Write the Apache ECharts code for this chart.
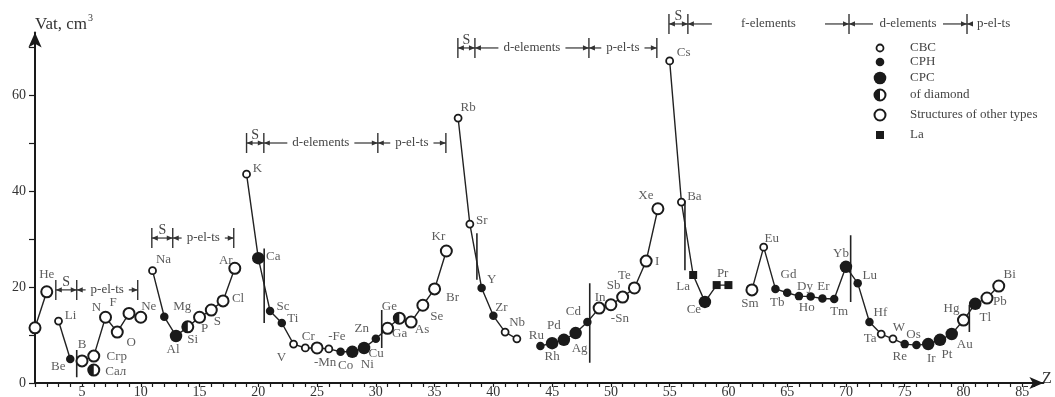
<!DOCTYPE html>
<html><head><meta charset="utf-8">
<script src="https://cdn.jsdelivr.net/npm/echarts/dist/echarts.min.js"></script>
<style>html,body{margin:0;padding:0;background:#fff}#c{width:1055px;height:397px}</style>
</head><body><div id="c"></div>
<script>
// ---- data (Z = index + 1) ----
const elements = ['H','He','Li','Be','B','Сгр','N','O','F','Ne','Na','Mg','Al','Si','P','S','Cl','Ar','K','Ca',
 'Sc','Ti','V','Cr','Mn','Fe','Co','Ni','Cu','Zn','Ga','Ge','As','Se','Br','Kr','Rb','Sr','Y','Zr',
 'Nb','Mo','Tc','Ru','Rh','Pd','Ag','Cd','In','Sn','Sb','Te','I','Xe','Cs','Ba','La','Ce','Pr','Nd',
 'Pm','Sm','Eu','Gd','Tb','Dy','Ho','Er','Tm','Yb','Lu','Hf','Ta','W','Re','Os','Ir','Pt','Au','Hg',
 'Tl','Pb','Bi'];
const volumes = [11.5,19.0,12.9,5.0,4.6,5.6,13.7,10.6,14.5,13.7,23.4,13.8,9.8,11.7,13.7,15.2,17.1,23.9,43.5,26.0,
 15.0,12.5,8.1,7.3,7.3,7.1,6.5,6.5,7.3,9.2,11.4,13.5,12.7,16.2,19.6,27.5,55.2,33.1,19.8,14.0,
 10.6,9.2,null,7.7,8.3,9.0,10.4,12.7,15.6,16.3,17.9,19.8,25.4,36.3,67.1,37.7,22.5,16.9,20.4,20.4,
 null,19.4,28.3,19.6,18.8,18.1,18.0,17.6,17.5,24.2,20.8,12.7,10.2,9.2,8.1,7.9,8.1,9.0,10.2,13.1,
 16.5,17.7,20.2];
const structures = ['OTH','OTH','CBC','CPH','OTH','OTH','OTH','OTH','OTH','OTH','CBC','CPH','CPC','DIA','OTH','OTH','OTH','OTH','CBC','CPC',
 'CPH','CPH','CBC','CBC','OTH','CBC','CPH','CPC','CPC','CPH','OTH','DIA','OTH','OTH','OTH','OTH','CBC','CBC','CPH','CPH',
 'CBC','CBC',null,'CPH','CPC','CPC','CPC','CPH','OTH','OTH','OTH','OTH','OTH','OTH','CBC','CBC','LA','CPC','LA','LA',
 null,'OTH','CBC','CPH','CPH','CPH','CPH','CPH','CPH','CPC','CPH','CPH','CBC','CBC','CPH','CPH','CPC','CPC','CPC','OTH',
 'CPC','OTH','OTH'];
// extra (unconnected) point: carbon as diamond
const extraNames = ['Сал'];
const extraZ = [6];
const extraVolumes = [2.7];
const extraStructures = ['DIA'];
// Z at which a new connected line segment starts
const segmentStarts = [1, 3, 5, 11, 19, 37, 44, 55, 62, 84];
// vertical divider marks: [Z, from, to]
const dividers = [[4.55,1.2,6.9],[20.5,12.5,28],[30.5,7.3,15.2],[38.6,21.5,31.2],[48.2,4.2,20.8],[56.3,23.5,38],[70.4,16.9,30.8],[80.5,10.6,16.3]];
// header brackets
const bracketRows = [
 {v:19.4, bars:[2.77,4.55,9.74], labels:['S','p-el-ts']},
 {v:30.2, bars:[10.94,12.72,17.91], labels:['S','p-el-ts']},
 {v:50.0, bars:[19.0,20.47,30.17,35.96], labels:['S','d-elements','p-el-ts']},
 {v:69.8, bars:[36.98,38.43,48.13,53.91], labels:['S','d-elements','p-el-ts']},
 {v:74.8, bars:[54.94,56.55,70.26,80.3], labels:['S','f-elements','d-elements','p-el-ts']}
];
const xTickLabels = [5,10,15,20,25,30,35,40,45,50,55,60,65,70,75,80,85];
const yTickLabels = [0,20,40,60];
const legendItems = [['CBC','CBC'],['CPH','CPH'],['CPC','CPC'],['DIA','of diamond'],['OTH','Structures of other types'],['LA','La']];

// ---- label layout (pixel offsets from point) ----
const labelText = {Mn:'-Mn', Fe:'-Fe', Sn:'-Sn'};
const labelOffsets = {He:[0,-17],Li:[12,-6],Be:[-12,8],B:[0,-16],'Сгр':[23,0],N:[-9,-10],O:[14,10],F:[-16,-11],Ne:[8,-11],
 Na:[11,-11],Mg:[18,-10],Al:[-3,14],Si:[5,13],P:[5,11],S:[6,12],Cl:[15,-2],Ar:[-9,-8],K:[11,-6],Ca:[15,-2],
 Sc:[13,-4],Ti:[11,-4],V:[-12,13],Cr:[3,-11],Mn:[8,15],Fe:[8,-12],Co:[5,14],Ni:[15,13],Cu:[12,6],Zn:[-14,-10],
 Ga:[12,5],Ge:[-10,-12],As:[11,8],Se:[14,11],Br:[18,9],Kr:[-8,-14],Rb:[10,-10],Sr:[12,-4],Y:[10,-8],Zr:[8,-8],
 Nb:[12,-10],Ru:[-4,-10],Rh:[0,13],Pd:[-10,-14],Ag:[4,15],Cd:[-14,-10],In:[1,-11],Sn:[9,14],Sb:[-9,-12],Te:[-10,-12],
 I:[11,0],Xe:[-12,-13],Cs:[14,-8],Ba:[13,-5],La:[-10,12],Ce:[-11,8],Pr:[6,-12],Sm:[-2,14],Eu:[8,-9],Gd:[13,-14],
 Tb:[-10,10],Dy:[6,-10],Ho:[-4,11],Er:[1,-12],Tm:[5,13],Yb:[-5,-13],Lu:[12,-8],Hf:[11,-9],Ta:[-11,5],W:[6,-11],
 Re:[-5,12],Os:[-3,-11],Ir:[3,14],Pt:[7,15],Au:[13,11],Hg:[-12,-12],Tl:[10,14],Pb:[13,4],Bi:[11,-11],'Сал':[22,2]};

const INK = '#1a1a1a';
const FONT = '"Liberation Serif", "DejaVu Serif", serif';
const markerStyles = {
 CBC:{symbol:'circle', symbolSize:7, itemStyle:{color:'#fff', borderColor:INK, borderWidth:1.8, opacity:1}},
 CPH:{symbol:'circle', symbolSize:8.5, itemStyle:{color:INK, opacity:1}},
 CPC:{symbol:'circle', symbolSize:12.5, itemStyle:{color:INK, opacity:1}},
 OTH:{symbol:'circle', symbolSize:11, itemStyle:{color:'#fff', borderColor:INK, borderWidth:2, opacity:1}},
 DIA:{symbol:'circle', symbolSize:11, itemStyle:{color:'#fff', borderColor:INK, borderWidth:2, opacity:1}},
 LA:{symbol:'rect', symbolSize:8, itemStyle:{color:INK, opacity:1}}
};

// ---- build points ----
const points = [];
elements.forEach((name,i)=>{ if (volumes[i] != null) points.push({name, z:i+1, v:volumes[i], s:structures[i]}); });
extraNames.forEach((name,i)=>points.push({name, z:extraZ[i], v:extraVolumes[i], s:extraStructures[i]}));

const series = [];
// connecting lines
for (let k=0;k<segmentStarts.length-1;k++){
  const data=[];
  for (let z=segmentStarts[k]; z<segmentStarts[k+1]; z++){
    const v=volumes[z-1]; if (v!=null) data.push([z,v]);
  }
  series.push({type:'line', data, symbol:'none', silent:true, z:1,
    lineStyle:{color:'#222', width:1.4}});
}
// dividers
dividers.forEach(d=>series.push({type:'line', data:[[d[0],d[1]],[d[0],d[2]]], symbol:'none', silent:true, z:1,
  lineStyle:{color:'#222', width:1.6}}));
// markers
Object.keys(markerStyles).forEach(t=>{
  const st = markerStyles[t];
  const data = points.filter(p=>p.s===t).map(p=>[p.z,p.v]);
  series.push(Object.assign({type:'scatter', data, silent:true, z:3}, st));
  if (t==='DIA') series.push({type:'scatter', data, silent:true, z:4,
     symbol:'path://M50,0 A50,50 0 0 0 50,100 Z', symbolSize:[5.5,11], symbolOffset:[-2.75,0], itemStyle:{color:INK, opacity:1}});
});
// labels
series.push({type:'scatter', silent:true, z:5, symbolSize:0,
  data: points.filter(p=>labelOffsets[p.name]).map(p=>({name: labelText[p.name]||p.name, value:[p.z,p.v],
     label:{offset:labelOffsets[p.name]}})),
  label:{show:true, position:'inside', formatter:'{b}', fontFamily:FONT, fontSize:13, color:'#333'}});

const option = {
  animation:false, backgroundColor:'#fff',
  grid:{left:35, right:11.6, top:32.6, bottom:14, containLabel:false, outerBoundsMode:'none'},
  xAxis:{type:'value', min:1, max:86.8, interval:1,
    axisLine:{show:true, onZero:false, symbol:['none','arrow'], symbolSize:[9,14], lineStyle:{color:INK, width:2}},
    axisTick:{show:true, length:4, lineStyle:{color:INK, width:1.2}},
    axisLabel:{margin:2, fontFamily:FONT, fontSize:14, color:'#333', showMaxLabel:false,
      formatter:v=> xTickLabels.includes(v)? String(v):''},
    splitLine:{show:false}},
  yAxis:{type:'value', min:0, max:73, interval:10,
    axisLine:{show:true, onZero:false, symbol:['none','arrow'], symbolSize:[10,15], lineStyle:{color:INK, width:2}},
    axisTick:{show:true, length:6, lineStyle:{color:INK, width:1.2}},
    axisLabel:{margin:9, fontFamily:FONT, fontSize:14, color:'#333', showMaxLabel:false,
      formatter:v=> yTickLabels.includes(v)? String(v):''},
    splitLine:{show:false}},
  series
};
const chart = echarts.init(document.getElementById('c'));
chart.setOption(option);

// ---- annotations ----
const px = (z,v)=>chart.convertToPixel({gridIndex:0},[z,v]);
const ctx = document.createElement('canvas').getContext('2d');
ctx.font = '13px "Liberation Serif"';
const G = [];
const line = (x1,y1,x2,y2,w)=>G.push({type:'line', shape:{x1,y1,x2,y2}, style:{stroke:'#333', lineWidth:w||1.2}, silent:true});
const arrow = (x,y,dir)=>G.push({type:'polygon', shape:{points:[[x,y],[x-dir*6,y-2.6],[x-dir*6,y+2.6]]}, style:{fill:'#333'}, silent:true});
const text = (x,y,t,opt)=>G.push(Object.assign({type:'text', x, y, style:Object.assign({text:t, font:'13px '+FONT, fill:'#444', align:'center', verticalAlign:'middle'}, opt||{})}, {silent:true}));

bracketRows.forEach(r=>{
  const y = px(1,r.v)[1];
  const xs = r.bars.map(b=>px(b,r.v)[0]);
  xs.forEach(x=>line(x,y-10,x,y+10,1.4));
  r.labels.forEach((lab,i)=>{
    const x1 = xs[i];
    if (lab==='S'){
      const x2 = xs[i+1];
      line(x1,y,x2,y); arrow(x1,y,-1); arrow(x2,y,1);
      text((x1+x2)/2, y-8, 'S', {font:'14px '+FONT});
      return;
    }
    const w = ctx.measureText(lab).width;
    if (i+1 >= xs.length){ // open ended
      line(x1,y,x1+6,y); arrow(x1,y,-1);
      text(x1+10, y, lab, {align:'left'});
      return;
    }
    const x2 = xs[i+1], cx=(x1+x2)/2;
    const spare = (x2-x1-w)/2;
    const L = Math.max(6, Math.min(24, spare-5));
    line(x1,y,x1+L,y); arrow(x1,y,-1);
    line(x2-L,y,x2,y); arrow(x2,y,1);
    text(cx, y, lab);
  });
});

// legend
const LX = 880, TX = 910;
const legendY = [48,62,78,95,115,135];
legendItems.forEach((it,i)=>{
  const y = legendY[i], t = it[0];
  if (t==='CBC') G.push({type:'circle', shape:{cx:LX,cy:y,r:3.5}, style:{fill:'#fff', stroke:INK, lineWidth:1.8}});
  if (t==='CPH') G.push({type:'circle', shape:{cx:LX,cy:y,r:4.3}, style:{fill:INK}});
  if (t==='CPC') G.push({type:'circle', shape:{cx:LX,cy:y,r:6.3}, style:{fill:INK}});
  if (t==='OTH') G.push({type:'circle', shape:{cx:LX,cy:y,r:5.5}, style:{fill:'#fff', stroke:INK, lineWidth:2}});
  if (t==='DIA'){ G.push({type:'circle', shape:{cx:LX,cy:y,r:5.5}, style:{fill:'#fff', stroke:INK, lineWidth:2}});
                  G.push({type:'sector', shape:{cx:LX,cy:y,r:5.5,r0:0,startAngle:Math.PI/2,endAngle:Math.PI*1.5,clockwise:true}, style:{fill:INK}}); }
  if (t==='LA') G.push({type:'rect', shape:{x:LX-4,y:y-4,width:8,height:8}, style:{fill:INK}});
  text(TX, y, it[1], {align:'left'});
});

// axis titles
text(35, 25, 'Vat, cm', {align:'left', font:'17px '+FONT, fill:'#333'});
text(88, 18, '3', {align:'left', font:'10px '+FONT, fill:'#333'});
text(1047, 379, 'Z', {font:'16px '+FONT, fill:'#333'});

chart.setOption({graphic:G});
</script></body></html>
